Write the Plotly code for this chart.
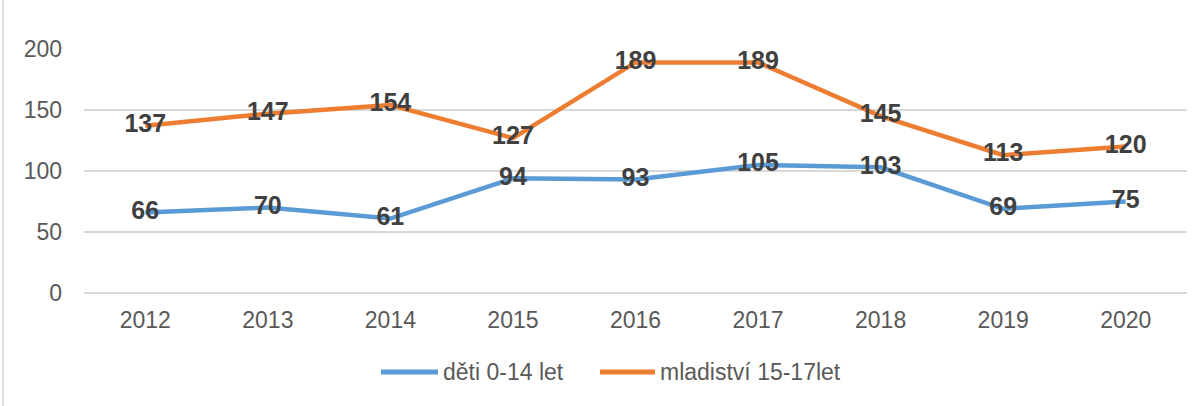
import plotly.graph_objects as go

years = ["2012", "2013", "2014", "2015", "2016", "2017", "2018", "2019", "2020"]
deti = [66, 70, 61, 94, 93, 105, 103, 69, 75]
mladistvi = [137, 147, 154, 127, 189, 189, 145, 113, 120]
series_names = ["děti 0-14 let", "mladiství 15-17let"]
colors = ["#5B9BD5", "#ED7D31"]

W, H = 1203, 406
L, R, T, B = 84, 16, 49, 113
pw = W - L - R
ph = H - T - B

fig = go.Figure()
for name, vals, col in zip(series_names, [deti, mladistvi], colors):
    fig.add_trace(go.Scatter(
        x=years, y=vals, name=name, mode="lines+text",
        line=dict(color=col, width=4.5),
        text=[str(v) for v in vals], textposition="middle center",
        textfont=dict(family="Liberation Sans", size=25, color="#404040", weight="bold"),
        cliponaxis=False, showlegend=False,
    ))

fig.update_layout(
    width=W, height=H,
    margin=dict(l=L, r=R, t=T, b=B),
    paper_bgcolor="white", plot_bgcolor="white",
    font=dict(family="Liberation Sans", size=23, color="#595959"),
    xaxis=dict(type="category", range=[-0.5, 8.5], showgrid=False, zeroline=False,
               showline=False, ticks="", ticklabelstandoff=11,
               tickfont=dict(size=23, color="#595959")),
    yaxis=dict(range=[0, 200], tickvals=[0, 50, 100, 150, 200], showgrid=True,
               gridcolor="#D9D9D9", gridwidth=1.5, zeroline=True, zerolinecolor="#D9D9D9",
               zerolinewidth=1.5, showline=False,
               ticks="", ticklabelstandoff=21, tickfont=dict(size=23, color="#595959")),
    showlegend=False,
)

# left border of chart area
fig.add_shape(type="line", xref="paper", yref="paper",
              x0=(3 - L) / pw, x1=(3 - L) / pw, y0=-B / ph, y1=(H - T) / ph + T / ph,
              line=dict(color="#D9D9D9", width=1.5))

# custom legend
def px(x):
    return (x - L) / pw

def py(y):
    return (H - B - y) / ph

legend_items = [(381, 438, 441), (600, 655, 658)]
ly = 372
for (x0, x1, tx), name, col in zip(legend_items, series_names, colors):
    fig.add_shape(type="line", xref="paper", yref="paper",
                  x0=px(x0), x1=px(x1), y0=py(ly), y1=py(ly),
                  line=dict(color=col, width=5))
    fig.add_annotation(xref="paper", yref="paper", x=px(tx), y=py(ly),
                       xanchor="left", yanchor="middle", showarrow=False,
                       text=name, font=dict(size=23, color="#595959"))

fig.write_html("out.html")
